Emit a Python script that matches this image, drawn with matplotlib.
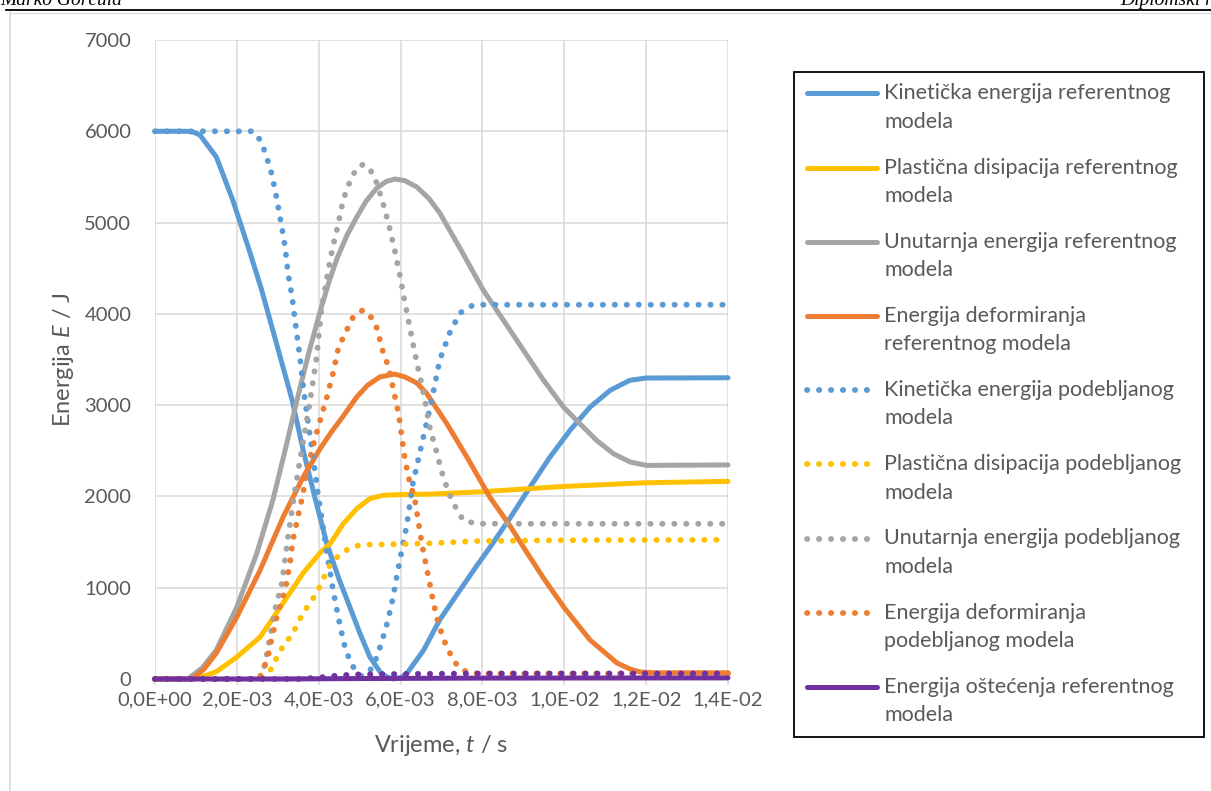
import numpy as np
import matplotlib
matplotlib.use("Agg")
import matplotlib.pyplot as plt
from matplotlib.lines import Line2D
from matplotlib.patches import Rectangle

# ---------------- data (time in ms, energy in J) ----------------
t_kin_ref = [0, 0.78, 0.95, 1.1, 1.5, 1.9, 2.3, 2.6, 2.9, 3.35, 3.62, 3.9, 4.2, 4.5, 4.76, 5.01, 5.25,
             5.5, 5.65, 5.82, 6.0, 6.15, 6.56, 6.96, 7.37, 7.86, 8.18, 8.67, 9.16, 9.65, 10.14, 10.63,
             11.12, 11.6, 12.0, 14.0]
e_kin_ref = [6000, 6000, 5990, 5958, 5718, 5246, 4700, 4270, 3786, 3056, 2508, 2000, 1480, 1090, 789, 497,
             241, 77, 25, 0, 15, 58, 314, 650, 920, 1240, 1440, 1760, 2100, 2431, 2724, 2979,
             3162, 3272, 3297, 3300]

t_pl_ref = [0, 1.0, 1.5, 2.0, 2.57, 3.13, 3.62, 4.03, 4.28, 4.6, 4.93, 5.25, 5.57, 5.99, 6.72, 7.94,
            10.0, 12.0, 14.0]
e_pl_ref = [0, 0, 80, 241, 460, 832, 1161, 1380, 1482, 1701, 1866, 1976, 2012, 2020, 2025, 2050,
            2110, 2150, 2165]

t_int_ref = [0, 0.8, 1.15, 1.5, 2.0, 2.49, 2.88, 3.18, 3.47, 3.75, 4.03, 4.25, 4.45, 4.7, 4.93, 5.15,
             5.42, 5.65, 5.86, 6.1, 6.4, 6.7, 6.96, 7.5, 8.02, 8.51, 9.0, 9.49, 9.98, 10.38, 10.79,
             11.2, 11.61, 12.01, 14.0]
e_int_ref = [0, 0, 120, 318, 789, 1380, 1960, 2508, 3056, 3560, 4020, 4350, 4610, 4870, 5060, 5230,
             5378, 5450, 5477, 5460, 5389, 5260, 5104, 4680, 4260, 3932, 3603, 3275, 2979, 2797, 2614,
             2468, 2377, 2340, 2345]

t_def_ref = [0, 0.9, 1.2, 1.5, 2.0, 2.57, 3.13, 3.62, 4.03, 4.3, 4.6, 4.93, 5.2, 5.5, 5.86, 6.1, 6.4,
             6.64, 7.13, 7.62, 8.18, 8.67, 9.08, 9.5, 10.0, 10.63, 11.29, 11.6, 11.85, 12.2, 14.0]
e_def_ref = [0, 0, 110, 285, 679, 1194, 1774, 2212, 2520, 2700, 2880, 3090, 3220, 3310, 3340, 3310, 3242,
             3126, 2797, 2431, 1993, 1680, 1390, 1100, 780, 427, 175, 110, 77, 68, 68]

t_kin_pod = [0, 2.4, 2.57, 2.69, 2.86, 2.98, 3.08, 3.18, 3.25, 3.35, 3.42, 3.54, 3.64, 3.86, 3.98, 4.2,
             4.36, 4.52, 4.64, 4.76, 4.89, 5.05, 5.29, 5.42, 5.51, 5.6, 5.68, 5.81, 5.92, 6.03, 6.15, 6.3,
             6.53, 6.74, 6.96, 7.2, 7.45, 7.77, 8.0, 14.0]
e_kin_pod = [6000, 6000, 5904, 5772, 5520, 5246, 4994, 4732, 4447, 4184, 3932, 3527, 3132, 2432, 2037, 1380,
             950, 588, 350, 204, 95, 30, 113, 241, 369, 497, 624, 880, 1154, 1410, 1683, 2140,
             2600, 3010, 3500, 3790, 4009, 4096, 4100, 4100]

t_pl_pod = [0, 2.6, 2.88, 3.0, 3.18, 3.35, 3.49, 3.62, 3.79, 3.96, 4.08, 4.2, 4.36, 4.6, 4.84, 5.13, 5.74,
            6.64, 7.86, 10.0, 14.0]
e_pl_pod = [0, 0, 131, 263, 394, 482, 613, 723, 832, 953, 1062, 1194, 1300, 1391, 1453, 1472, 1475,
            1485, 1511, 1520, 1525]

t_int_pod = [0, 2.6, 2.69, 2.81, 2.93, 3.1, 3.25, 3.42, 3.6, 3.79, 3.95, 4.07, 4.23, 4.34, 4.48, 4.6, 4.8,
             4.96, 5.08, 5.21, 5.37, 5.55, 5.71, 5.85, 5.97, 6.08, 6.19, 6.31, 6.43, 6.56, 6.72, 6.88,
             7.04, 7.25, 7.53, 7.86, 14.0]
e_int_pod = [0, 0, 175, 460, 756, 1051, 1555, 2070, 2550, 3050, 3530, 4060, 4469, 4727, 4990, 5253, 5495,
             5611, 5635, 5611, 5495, 5246, 4979, 4713, 4454, 4187, 3932, 3658, 3399, 3136, 2742, 2487,
             2213, 1957, 1738, 1701, 1700]

t_def_pod = [0, 2.55, 2.61, 2.74, 2.86, 3.0, 3.18, 3.3, 3.37, 3.49, 3.62, 3.71, 3.95, 4.2, 4.35, 4.47,
             4.59, 4.84, 5.08, 5.3, 5.42, 5.57, 5.69, 5.82, 5.95, 6.03, 6.11, 6.23, 6.34, 6.43, 6.52,
             6.64, 6.76, 6.88, 7.04, 7.25, 7.41, 7.62, 7.9, 14.0]
e_def_pod = [0, 0, 77, 208, 460, 723, 975, 1270, 1522, 1774, 2037, 2289, 2700, 3089, 3352, 3604,
             3735, 3965, 4042, 3954, 3845, 3582, 3439, 3181, 2907, 2651, 2395, 2140, 1987, 1738, 1482,
             1209, 935, 679, 442, 241, 131, 77, 60, 60]

t_dmg_ref = [0, 3.0, 5.0, 8.0, 14.0]
e_dmg_ref = [0, 0, 5, 10, 12]

t_dmg_pod = [0, 3.5, 4.0, 4.5, 5.0, 6.0, 8.0, 14.0]
e_dmg_pod = [0, 0, 15, 40, 50, 55, 60, 60]

labels = [
    "Kinetička energija referentnog\nmodela",
    "Plastična disipacija referentnog\nmodela",
    "Unutarnja energija referentnog\nmodela",
    "Energija deformiranja\nreferentnog modela",
    "Kinetička energija podebljanog\nmodela",
    "Plastična disipacija podebljanog\nmodela",
    "Unutarnja energija podebljanog\nmodela",
    "Energija deformiranja\npodebljanog modela",
    "Energija oštećenja referentnog\nmodela",
]

x_ticks = [0, 0.002, 0.004, 0.006, 0.008, 0.010, 0.012, 0.014]
x_tick_labels = ["0,0E+00", "2,0E-03", "4,0E-03", "6,0E-03", "8,0E-03", "1,0E-02", "1,2E-02", "1,4E-02"]
y_ticks = [0, 1000, 2000, 3000, 4000, 5000, 6000, 7000]
y_tick_labels = ["0", "1000", "2000", "3000", "4000", "5000", "6000", "7000"]

# ---------------- style ----------------
BLUE, YELLOW, GRAY, ORANGE, PURPLE = "#5B9BD5", "#FFC000", "#A5A5A5", "#ED7D31", "#7030A0"
TXT = "#595959"
GRID = "#D9D9D9"
FONT = "Lato"
plt.rcParams["font.family"] = [FONT, "DejaVu Sans"]
plt.rcParams["mathtext.fontset"] = "custom"
plt.rcParams["mathtext.rm"] = FONT
plt.rcParams["mathtext.it"] = FONT + ":italic"

W, H = 1211, 791
fig = plt.figure(figsize=(W / 100, H / 100), dpi=100)

def fx(px):
    return px / W

def fy(py):
    return 1 - py / H

ax = fig.add_axes([fx(155), fy(679), fx(728) - fx(155), fy(40) - fy(679)])

LW = 3.6
LW_DOT = 4.2
DOT = (0, (0.05, 2.0))
series = [
    (t_kin_ref, e_kin_ref, BLUE, "-"),
    (t_pl_ref, e_pl_ref, YELLOW, "-"),
    (t_int_ref, e_int_ref, GRAY, "-"),
    (t_def_ref, e_def_ref, ORANGE, "-"),
    (t_kin_pod, e_kin_pod, BLUE, DOT),
    (t_pl_pod, e_pl_pod, YELLOW, DOT),
    (t_int_pod, e_int_pod, GRAY, DOT),
    (t_def_pod, e_def_pod, ORANGE, DOT),
    (t_dmg_ref, e_dmg_ref, PURPLE, "-"),
    (t_dmg_pod, e_dmg_pod, PURPLE, DOT),
]
for i, (t, e, c, ls) in enumerate(series):
    ax.plot(np.array(t) * 1e-3, e, color=c, lw=(LW if ls == "-" else LW_DOT), linestyle=ls,
            solid_capstyle="round", dash_capstyle="round", solid_joinstyle="round",
            dash_joinstyle="round", clip_on=False, zorder=3 + i * 0.1)

ax.set_xlim(0, 0.014)
ax.set_ylim(0, 7000)
ax.set_xticks(x_ticks)
ax.set_xticklabels(x_tick_labels)
ax.set_yticks(y_ticks)
ax.set_yticklabels(y_tick_labels)
ax.grid(True, color=GRID, lw=1.1, zorder=0)
ax.set_axisbelow(True)
for s in ["top", "right", "left"]:
    ax.spines[s].set_visible(False)
ax.spines["bottom"].set_color(GRID)
ax.spines["bottom"].set_linewidth(1.1)
ax.tick_params(axis="x", colors=GRID, labelcolor=TXT, direction="out", length=4, width=1.1,
               labelsize=14.5, pad=5)
ax.tick_params(axis="y", length=0, labelcolor=TXT, labelsize=14.5, pad=17)

ax.set_xlabel("Vrijeme, $t$ / s", fontsize=17, color=TXT, labelpad=18)
ax.set_ylabel("Energija $E$ / J", fontsize=17, color=TXT, labelpad=6)

# ---------------- page decoration ----------------
fig.add_artist(Line2D([fx(6), 1], [fy(10), fy(10)], color="black", lw=1.3, transform=fig.transFigure))
fig.add_artist(Line2D([fx(10), fx(10)], [fy(12), 0], color=GRID, lw=1.2, transform=fig.transFigure))
fig.add_artist(Line2D([fx(10), 1], [fy(12.5), fy(12.5)], color=GRID, lw=0.8, transform=fig.transFigure))
fig.text(fx(0), fy(5), "Marko Gorčula", fontsize=14, family="Liberation Serif", style="italic",
         ha="left", va="baseline")
fig.text(fx(1232), fy(5), "Diplomski rad", fontsize=14, family="Liberation Serif", style="italic",
         ha="right", va="baseline")

# ---------------- legend (Excel style) ----------------
fig.add_artist(Rectangle((fx(793.5), fy(737)), fx(1203.5) - fx(793.5), fy(71.5) - fy(737),
                         transform=fig.transFigure, facecolor="white", edgecolor="black", lw=1.3))
leg_styles = [(BLUE, "-"), (YELLOW, "-"), (GRAY, "-"), (ORANGE, "-"),
              (BLUE, DOT), (YELLOW, DOT), (GRAY, DOT), (ORANGE, DOT), (PURPLE, "-")]
for i, (lab, (c, ls)) in enumerate(zip(labels, leg_styles)):
    yc = 93.3 + 74.2 * i
    x1 = 877 if ls == "-" else 870
    fig.add_artist(Line2D([fx(807), fx(x1)], [fy(yc), fy(yc)], color=c,
                          lw=(LW if ls == "-" else LW_DOT), linestyle=ls,
                          solid_capstyle="round", dash_capstyle="round", transform=fig.transFigure))
    for j, line in enumerate(lab.split("\n")):
        fig.text(fx(884), fy(yc + 28.3 * j), line, fontsize=15.5, color=TXT, ha="left", va="center")

fig.savefig("out.png", dpi=100)
